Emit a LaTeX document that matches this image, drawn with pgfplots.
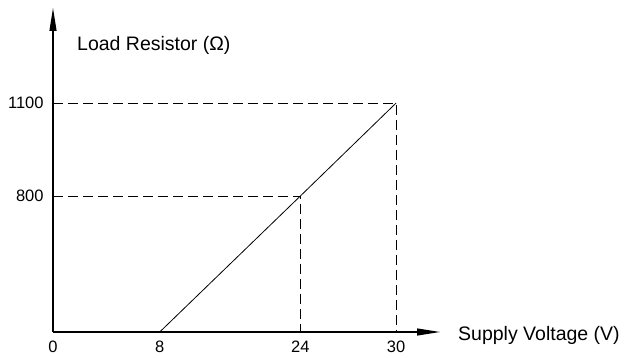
\documentclass[border=0pt]{standalone}
\usepackage{pgfplots}
\pgfplotsset{compat=1.18}
\usetikzlibrary{arrows.meta}
\usepackage{fontspec}
\setmainfont{Liberation Sans}
\newcommand\tlab[1]{\mbox{\fontsize{16.5bp}{19bp}\selectfont #1}}

\begin{document}
\fontsize{16.5bp}{19bp}\selectfont
\begin{tikzpicture}
\useasboundingbox (-53bp,-26bp) rectangle (571bp,332bp);
\begin{axis}[
  at={(0,0)}, anchor=origin,
  scale only axis,
  width=387bp, height=324bp,
  axis lines=left,
  axis line style={line width=1.1bp, -{Triangle[length=23bp,width=7bp]}},
  % the drawing is schematic: the scales are piecewise linear
  x coord trafo/.code={\pgfmathparse{13.375*#1-4.5625*max(#1-8,0)+7.1875*max(#1-24,0)}},
  y coord trafo/.code={\pgfmathparse{0.17*#1+0.14*max(#1-800,0)}},
  xmin=0, xmax=32.75,
  ymin=0, ymax=1406.5,
  xtick={0,8,24,30}, xticklabels={\tlab{0},\tlab{8},\tlab{24},\tlab{30}},
  ytick={800,1100}, yticklabels={\tlab{800},\tlab{1100}},
  major tick length=0pt,
  tick style={draw=none},
  /pgf/number format/assume math mode=true,
  xticklabel style={yshift=-3.5bp},
  yticklabel style={xshift=-3.7bp},
  xlabel={\fontsize{19.5bp}{23bp}\selectfont Supply Voltage (V)},
  ylabel={\fontsize{19.5bp}{23bp}\selectfont Load Resistor (Ω)},
  every axis x label/.style={at={(rel axis cs:1,0)}, anchor=base west,
    shift={(12.5bp,-8bp)}},
  every axis y label/.style={at={(rel axis cs:0,1)}, anchor=base west,
    shift={(18.5bp,-43bp)}},
  clip=false,
]
\addplot[black, line width=0.8bp] coordinates {(8,0) (24,800) (30,1100)};
\addplot[black, line width=0.8bp, dash pattern=on 10bp off 5bp] coordinates {(0,1100) (30,1100) (30,0)};
\addplot[black, line width=0.8bp, dash pattern=on 10bp off 5bp] coordinates {(0,800) (24,800) (24,0)};
\end{axis}
\end{tikzpicture}
\end{document}
